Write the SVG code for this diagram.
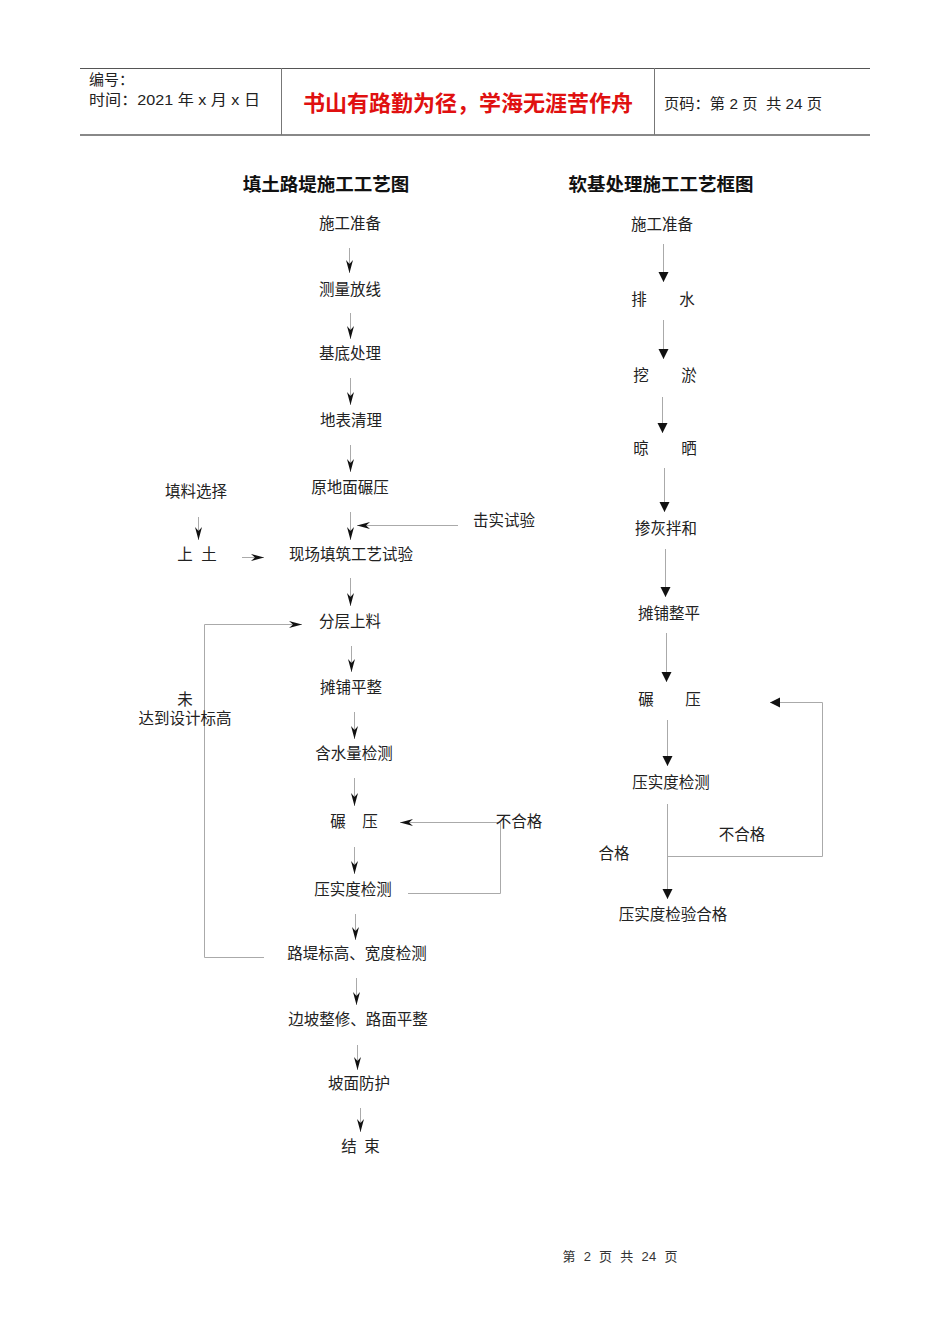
<svg xmlns="http://www.w3.org/2000/svg" width="950" height="1344" viewBox="0 0 950 1344" xml:space="preserve">
<style>
text{font-family:"Liberation Sans","Noto Sans CJK SC",sans-serif;fill:#222;white-space:pre}
.n{font-size:15.5px;text-anchor:middle}
.t{font-size:18.5px;font-weight:bold;text-anchor:middle;fill:#111}
.h{font-size:15px}
.c{fill:none;stroke:#aaa;stroke-width:1}
.l{marker-end:url(#v)}
.r{marker-end:url(#tri)}
</style>
<defs>
<marker id="v" markerUnits="userSpaceOnUse" markerWidth="14" markerHeight="8" viewBox="0 -4 14 8" refX="13" refY="0" orient="auto" overflow="visible">
<path d="M0,-3.5 L13,0 L0,3.5 L4,0 z" fill="#111"/>
</marker>
<marker id="tri" markerUnits="userSpaceOnUse" markerWidth="10" markerHeight="10" viewBox="0 -5 10 10" refX="10" refY="0" orient="auto" overflow="visible">
<path d="M0,-5 L10,0 L0,5 z" fill="#111"/>
</marker>
</defs>
<rect width="950" height="1344" fill="#fff"/>
<g id="header">
<line x1="80" y1="68.5" x2="870" y2="68.5" stroke="#555" stroke-width="1"/>
<line x1="80" y1="135" x2="870" y2="135" stroke="#888" stroke-width="2"/>
<line x1="281.5" y1="68" x2="281.5" y2="135" stroke="#777" stroke-width="1"/>
<line x1="654.5" y1="68" x2="654.5" y2="135" stroke="#777" stroke-width="1"/>
<text x="89" y="85" class="h">编号：</text>
<text x="89" y="105" class="h" textLength="171" lengthAdjust="spacingAndGlyphs">时间：2021 年 x 月 x 日</text>
<text x="468" y="111" style="font-size:22px;font-weight:bold;fill:#e01010;text-anchor:middle">书山有路勤为径，学海无涯苦作舟</text>
<text x="664" y="109" style="font-size:15px" textLength="158" lengthAdjust="spacingAndGlyphs">页码：第 2 页  共 24 页</text>
</g>
<text x="326" y="191" class="t">填土路堤施工工艺图</text>
<text x="661" y="191" class="t">软基处理施工工艺框图</text>
<g id="connectors">
<line class="c l" x1="349.5" y1="248" x2="349.5" y2="273"/>
<line class="c l" x1="350.5" y1="313" x2="350.5" y2="339"/>
<line class="c l" x1="350.5" y1="378" x2="350.5" y2="405"/>
<line class="c l" x1="350.5" y1="445" x2="350.5" y2="472"/>
<line class="c l" x1="350.5" y1="512" x2="350.5" y2="540"/>
<line class="c l" x1="458" y1="525.5" x2="357" y2="525.5"/>
<line class="c l" x1="198.5" y1="517" x2="198.5" y2="540"/>
<line class="c l" x1="242" y1="557.5" x2="264" y2="557.5"/>
<line class="c l" x1="350.5" y1="578" x2="350.5" y2="606"/>
<line class="c l" x1="351.5" y1="646" x2="351.5" y2="672"/>
<line class="c l" x1="354.5" y1="712" x2="354.5" y2="739"/>
<line class="c l" x1="354.5" y1="778" x2="354.5" y2="806"/>
<line class="c l" x1="354.5" y1="847" x2="354.5" y2="874"/>
<line class="c l" x1="355.5" y1="914" x2="355.5" y2="940"/>
<line class="c l" x1="356.5" y1="978" x2="356.5" y2="1005"/>
<line class="c l" x1="357.5" y1="1045" x2="357.5" y2="1070"/>
<line class="c l" x1="360.5" y1="1108" x2="360.5" y2="1132"/>
<polyline class="c l" points="264,957.5 204.5,957.5 204.5,624.5 302,624.5"/>
<polyline class="c l" points="408,893.5 500.5,893.5 500.5,822.5 400,822.5"/>
<line class="c r" x1="663.5" y1="244" x2="663.5" y2="282"/>
<line class="c r" x1="663.5" y1="320" x2="663.5" y2="359"/>
<line class="c r" x1="662.5" y1="397" x2="662.5" y2="433"/>
<line class="c r" x1="664.5" y1="468" x2="664.5" y2="512"/>
<line class="c r" x1="665.5" y1="549" x2="665.5" y2="597"/>
<line class="c r" x1="666.5" y1="633" x2="666.5" y2="682"/>
<line class="c r" x1="667.5" y1="720" x2="667.5" y2="766"/>
<line class="c r" x1="667.5" y1="804" x2="667.5" y2="899"/>
<polyline class="c r" points="667,856.5 822.5,856.5 822.5,702.5 770,702.5"/>
</g>
<g id="n1"><text x="350" y="229" class="n">施工准备</text></g>
<g id="n2"><text x="350" y="295" class="n">测量放线</text></g>
<g id="n3"><text x="350" y="359" class="n">基底处理</text></g>
<g id="n4"><text x="351" y="426" class="n">地表清理</text></g>
<g id="n5"><text x="350" y="493" class="n">原地面碾压</text></g>
<g id="n6"><text x="351" y="560" class="n">现场填筑工艺试验</text></g>
<g id="n7"><text x="350" y="627" class="n">分层上料</text></g>
<g id="n8"><text x="351" y="693" class="n">摊铺平整</text></g>
<g id="n9"><text x="354" y="759" class="n">含水量检测</text></g>
<g id="n10"><text y="827" class="n"><tspan x="338">碾</tspan><tspan x="370">压</tspan></text></g>
<g id="n11"><text x="353" y="895" class="n">压实度检测</text></g>
<g id="n12"><text x="357" y="959" class="n">路堤标高、宽度检测</text></g>
<g id="n13"><text x="358" y="1025" class="n">边坡整修、路面平整</text></g>
<g id="n14"><text x="359" y="1089" class="n">坡面防护</text></g>
<g id="n15"><text y="1152" class="n"><tspan x="349">结</tspan><tspan x="372">束</tspan></text></g>
<g id="n16"><text x="196" y="497" class="n">填料选择</text></g>
<g id="n17"><text y="560" class="n"><tspan x="185">上</tspan><tspan x="209">土</tspan></text></g>
<g id="n18"><text x="504" y="526" class="n">击实试验</text></g>
<g id="l1"><text x="185" y="705" class="n">未</text><text x="185" y="724" class="n">达到设计标高</text></g>
<g id="l2"><text x="519" y="827" class="n">不合格</text></g>
<g id="r1"><text x="662" y="230" class="n">施工准备</text></g>
<g id="r2"><text y="305" class="n"><tspan x="639">排</tspan><tspan x="687">水</tspan></text></g>
<g id="r3"><text y="381" class="n"><tspan x="641">挖</tspan><tspan x="689">淤</tspan></text></g>
<g id="r4"><text y="454" class="n"><tspan x="641">晾</tspan><tspan x="689">晒</tspan></text></g>
<g id="r5"><text x="666" y="534" class="n">掺灰拌和</text></g>
<g id="r6"><text x="669" y="619" class="n">摊铺整平</text></g>
<g id="r7"><text y="705" class="n"><tspan x="646">碾</tspan><tspan x="693">压</tspan></text></g>
<g id="r8"><text x="671" y="788" class="n">压实度检测</text></g>
<g id="r9"><text x="673" y="920" class="n">压实度检验合格</text></g>
<g id="r10"><text x="614" y="859" class="n">合格</text></g>
<g id="r11"><text x="742" y="840" class="n">不合格</text></g>
<text x="620" y="1261" style="font-size:13px;text-anchor:middle;fill:#333" textLength="115" lengthAdjust="spacing">第  2  页  共  24  页</text>
</svg>
